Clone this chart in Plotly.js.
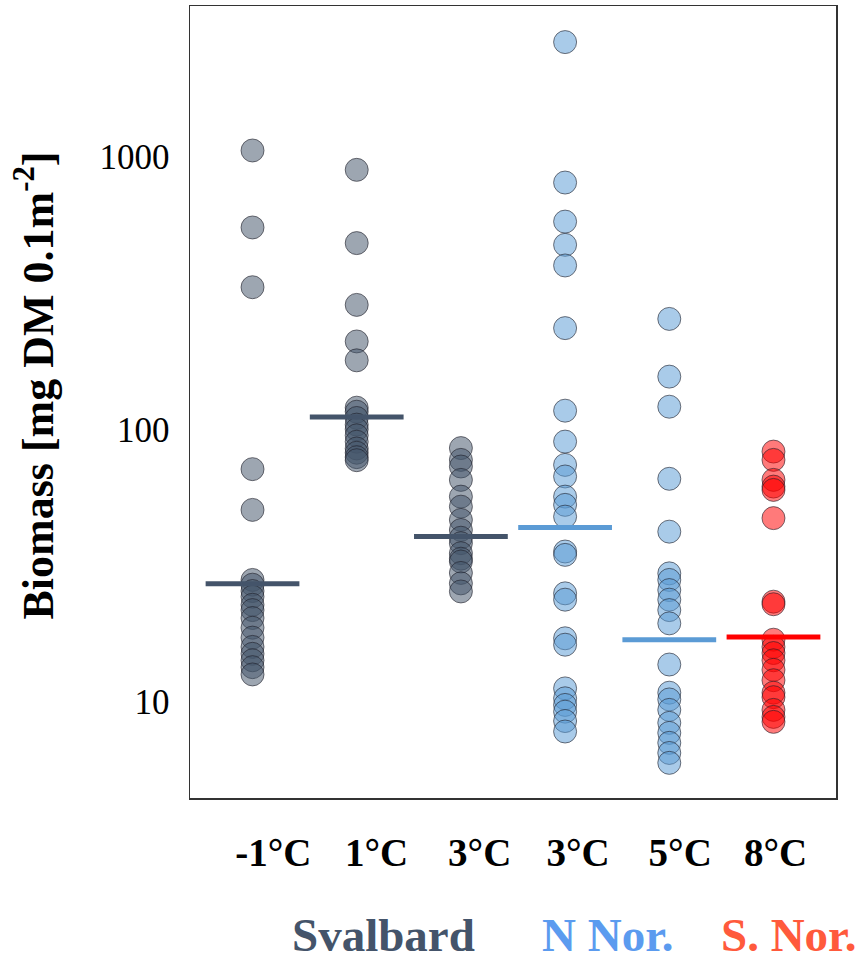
<!DOCTYPE html>
<html>
<head>
<meta charset="utf-8">
<script src="https://cdn.plot.ly/plotly-3.0.1.min.js"></script>
<style>html,body{margin:0;padding:0;background:#fff;}#chart{width:859px;height:965px;}</style>
</head>
<body>
<div id="chart"></div>
<script>
// ---- data ----
const tickLabels = ["-1°C", "1°C", "3°C", "3°C", "5°C", "8°C"];
const regionNames = ["Svalbard", "N Nor.", "S. Nor."];

const svalbardM1 = [1054, 550, 332, 71.4, 50.6, 28.0, 26.9, 25.5, 24.3, 22.7, 21.7, 20.3, 18.7, 17.2, 15.9, 15.0, 14.2, 13.4, 12.6];
const svalbard1  = [895, 482, 286, 210, 179, 120, 116, 110, 104, 100, 95, 90, 85, 82, 79, 77];
const svalbard3  = [85.3, 77.2, 73, 65.2, 56.6, 52, 46.5, 42.7, 40, 38.2, 35.1, 33.5, 32.7, 29.7, 27.2, 25.4];
const nNor3      = [2634, 804, 578, 475, 399, 235, 117, 90.1, 74, 67.1, 56.6, 52.8, 47.8, 35.6, 34.6, 25.0, 23.7, 17.1, 16.2, 11.2, 10.3, 9.74, 9.2, 8.5, 7.78];
const nNor5      = [254, 156, 121, 65.8, 42.1, 29.6, 28.0, 25.7, 23.7, 21.7, 19.4, 13.7, 10.8, 10.2, 9.34, 8.37, 7.69, 7.07, 6.49, 5.97];
const sNor8      = [82.8, 77.2, 65.2, 61.6, 59.9, 47.2, 23.3, 22.8, 16.9, 15.9, 15.1, 14.2, 13.1, 12.0, 10.8, 10.4, 9.34, 8.8, 8.44];
const medians    = [27.1, 110.8, 40.4, 43.6, 16.9, 17.3];

// ---- styling ----
const groups = [svalbardM1, svalbard1, svalbard3, nNor3, nNor5, sNor8];
const groupRegion = [0, 0, 0, 1, 1, 2];
const fillColors = ["rgba(68,84,106,0.52)", "rgba(91,155,213,0.52)", "rgba(255,0,0,0.52)"];
const lineColors = ["#44546A", "#5B9BD5", "#FF0000"];
const regionTextColors = ["#44546A", "#5B9BEF", "#FF5A3C"];
const labelShift = [0.2, 0.19, 0.18, 0.125, 0.105, 0.02];
const regionX = [0.300, 0.647, 0.926];

const traces = [];
groups.forEach((vals, i) => {
  traces.push({
    type: "scatter", mode: "markers",
    x: vals.map(() => i), y: vals,
    marker: { size: 23, color: fillColors[groupRegion[i]],
              line: { color: "rgba(30,30,40,0.6)", width: 1 } },
    showlegend: false, hoverinfo: "y"
  });
});
medians.forEach((m, i) => {
  traces.push({
    type: "scatter", mode: "lines",
    x: [i - 0.45, i + 0.45], y: [m, m],
    line: { color: lineColors[groupRegion[i]], width: 5 },
    showlegend: false, hoverinfo: "y"
  });
});

const serif = "'Liberation Serif', 'Times New Roman', serif";

const annotations = regionNames.map((name, k) => ({
  text: "<b>" + name + "</b>", xref: "paper", yref: "paper",
  x: regionX[k], y: -0.207, xanchor: "center", yanchor: "bottom",
  borderpad: 0,
  showarrow: false, font: { family: serif, size: 47, color: regionTextColors[k] }
}));

const layout = {
  width: 859, height: 965,
  margin: { l: 190, r: 23, t: 6, b: 167 },
  paper_bgcolor: "#fff", plot_bgcolor: "#fff",
  showlegend: false,
  xaxis: {
    range: [-0.6, 5.6], showgrid: false, zeroline: false,
    showline: true, mirror: true, linecolor: "#333", linewidth: 1.5,
    tickmode: "array",
    tickvals: tickLabels.map((_, i) => i + labelShift[i]),
    ticktext: tickLabels.map(t => "<b>" + t + "</b>"),
    ticks: "outside", ticklen: 20, tickcolor: "rgba(0,0,0,0)",
    tickfont: { family: serif, size: 39, color: "#000" }
  },
  yaxis: {
    type: "log", range: [0.647, 3.553], showgrid: false, zeroline: false,
    showline: true, mirror: true, linecolor: "#333", linewidth: 1.5,
    tickmode: "array", tickvals: [10, 100, 1000], ticktext: ["10", "100", "1000"],
    ticks: "outside", ticklen: 12, tickcolor: "rgba(0,0,0,0)",
    tickfont: { family: serif, size: 35, color: "#000" },
    title: { text: "&nbsp;&nbsp;&nbsp;<b>Biomass [mg DM 0.1m<sup>-2</sup>]</b>", standoff: 32,
             font: { family: serif, size: 44, color: "#000" } }
  },
  annotations: annotations
};

Plotly.newPlot("chart", traces, layout, { displayModeBar: false, staticPlot: true });
</script>
</body>
</html>
